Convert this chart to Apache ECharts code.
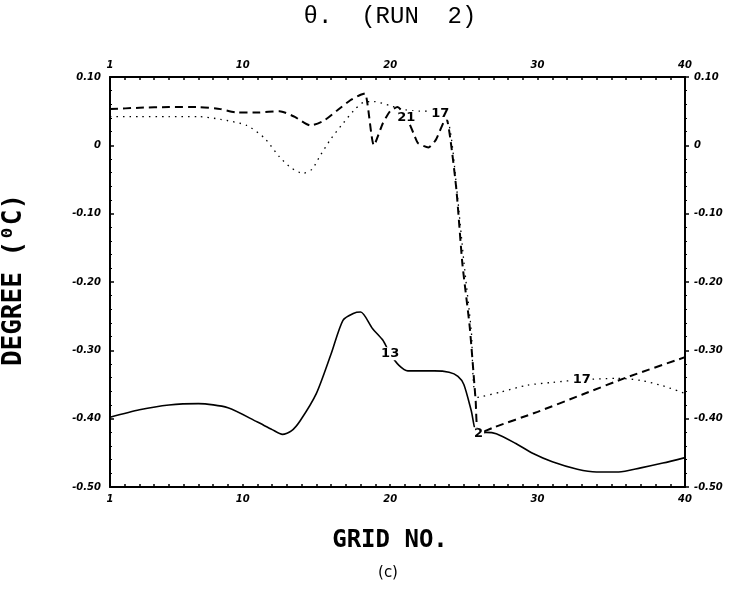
<!DOCTYPE html>
<html>
<head>
<meta charset="utf-8">
<title>theta run 2</title>
<script src="https://cdn.jsdelivr.net/npm/echarts@6/dist/echarts.min.js"></script>
<style>
  html, body { margin: 0; padding: 0; background: #fff; }
  #chart { width: 741px; height: 592px; }
</style>
</head>
<body>
<div id="chart"></div>
<script>
// grid positions shown on the x axis
var gridLabels = [1, 10, 20, 30, 40];
var gridTicks = [];
for (var g = 1; g <= 40; g++) gridTicks.push(g);

// curve 13 (solid)
var solidX = [1, 3, 5, 7, 9, 11, 12, 12.7, 13.3, 13.9, 15, 16, 16.8, 17.5, 18, 18.8, 19.5, 20, 20.6, 21.2, 22, 23, 24, 24.6, 25, 25.5, 25.9, 26.5, 27.2, 28.5, 29.7, 31, 32.7, 34, 35.5, 37, 38.5, 40];
var solidY = [-0.398, -0.387, -0.380, -0.378, -0.384, -0.405, -0.416, -0.423, -0.418, -0.403, -0.363, -0.305, -0.256, -0.246, -0.244, -0.268, -0.285, -0.305, -0.322, -0.330, -0.330, -0.330, -0.332, -0.338, -0.350, -0.388, -0.422, -0.420, -0.422, -0.436, -0.451, -0.463, -0.474, -0.478, -0.478, -0.472, -0.465, -0.457];

// curve 21 (dashed)
var dashX = [1, 3, 5, 7, 8.5, 9.6, 11, 12.5, 13.5, 14.6, 15.5, 16.4, 17.3, 18, 18.3, 18.9, 19.5, 20, 20.5, 21.1, 21.6, 21.9, 22.6, 23.1, 23.8, 24.1, 24.5, 24.9, 25.4, 25.8, 26.0, 27, 30, 33, 36, 40];
var dashY = [0.053, 0.055, 0.056, 0.056, 0.053, 0.048, 0.048, 0.050, 0.042, 0.029, 0.036, 0.051, 0.066, 0.074, 0.076, 0.000, 0.032, 0.050, 0.056, 0.041, 0.017, 0.003, -0.003, 0.008, 0.040, 0.007, -0.066, -0.173, -0.266, -0.373, -0.422, -0.413, -0.390, -0.365, -0.340, -0.310];

// curve 17 (dotted)
var dotX = [1, 3, 5, 7, 8.5, 10.3, 11.5, 12.5, 13.3, 14.1, 14.7, 15.2, 16, 16.8, 17.5, 18.2, 18.9, 20, 21, 22, 22.7, 23.4, 24.0, 24.5, 25.0, 25.5, 25.9, 27.5, 29.3, 31, 33, 35.4, 37, 38.5, 40];
var dotY = [0.042, 0.042, 0.042, 0.042, 0.038, 0.029, 0.010, -0.017, -0.033, -0.041, -0.035, -0.017, 0.010, 0.032, 0.050, 0.063, 0.064, 0.058, 0.052, 0.050, 0.050, 0.047, 0.030, -0.060, -0.170, -0.270, -0.369, -0.361, -0.351, -0.347, -0.343, -0.341, -0.344, -0.352, -0.363];

// curve labels: which point of which curve carries which text
var curveLabels = [
  { curve: "solid", at: 20, text: "13" },
  { curve: "dash", at: 21.1, text: "21" },
  { curve: "dash", at: 26.0, text: "2" },
  { curve: "dot", at: 23.4, text: "17" },
  { curve: "dot", at: 33, text: "17" }
];

function pairs(xs, ys) {
  return xs.map(function (x, i) { return [x, ys[i]]; });
}

var curves = {
  solid: pairs(solidX, solidY),
  dash: pairs(dashX, dashY),
  dot: pairs(dotX, dotY)
};

var labelData = curveLabels.map(function (l) {
  var pt = curves[l.curve].filter(function (p) { return p[0] === l.at; })[0];
  return { value: [pt[0], pt[1]], name: l.text };
});

var tickFont = {
  color: "#000",
  fontSize: 10,
  fontWeight: "bold",
  fontStyle: "italic",
  fontFamily: "DejaVu Sans"
};

function degLabel(v) {
  if (Math.abs(v) < 1e-9) return "0";
  return v.toFixed(2);
}

function xAxisCfg(pos) {
  return {
    type: "value",
    position: pos,
    min: 1,
    max: 40,
    axisLine: { show: true, onZero: false, lineStyle: { color: "#000", width: 2 } },
    axisTick: { show: true, inside: true, length: 3, customValues: gridTicks, lineStyle: { color: "#000", width: 1.5 } },
    axisLabel: Object.assign({ customValues: gridLabels, margin: 7 }, tickFont),
    splitLine: { show: false }
  };
}

function yAxisCfg(pos) {
  return {
    type: "value",
    position: pos,
    min: -0.5,
    max: 0.1,
    interval: 0.1,
    axisLine: { show: true, onZero: false, lineStyle: { color: "#000", width: 2 } },
    axisTick: { show: true, inside: pos === "left", length: 4, lineStyle: { color: "#000", width: 1.5 } },
    minorTick: { show: true, splitNumber: 5, length: 2, lineStyle: { color: "#000", width: 1.2 } },
    axisLabel: Object.assign({ formatter: degLabel, margin: 9 }, tickFont),
    splitLine: { show: false }
  };
}

var chart = echarts.init(document.getElementById("chart"), null, { renderer: "canvas" });

chart.setOption({
  backgroundColor: "#fff",
  animation: false,
  grid: { left: 110, right: 56, top: 77, bottom: 105 },
  xAxis: [xAxisCfg("bottom"), xAxisCfg("top")],
  yAxis: [yAxisCfg("left"), yAxisCfg("right")],
  graphic: [
    {
      type: "text", x: 390, y: 17,
      style: { text: "θ.  (RUN  2)", font: "normal 24px 'Liberation Mono'", fill: "#000", align: "center", verticalAlign: "middle" }
    },
    {
      type: "text", x: 14, y: 280, rotation: Math.PI / 2,
      style: { text: "DEGREE (⁰C)", font: "bold 26px 'DejaVu Sans Mono'", fill: "#000", align: "center", verticalAlign: "middle" }
    },
    {
      type: "text", x: 390, y: 541,
      style: { text: "GRID NO.", font: "bold 24px 'DejaVu Sans Mono'", fill: "#000", align: "center", verticalAlign: "middle" }
    },
    {
      type: "text", x: 388, y: 573,
      style: { text: "(c)", font: "normal 15px 'DejaVu Sans'", fill: "#000", align: "center", verticalAlign: "middle" }
    }
  ],
  series: [
    {
      type: "line",
      data: curves.solid,
      smooth: 0.25,
      symbol: "none",
      lineStyle: { color: "#000", width: 1.6, type: "solid" }
    },
    {
      type: "line",
      data: curves.dash,
      smooth: 0.2,
      symbol: "none",
      lineStyle: { color: "#000", width: 2, type: [8, 5] }
    },
    {
      type: "line",
      data: curves.dot,
      smooth: 0.25,
      symbol: "none",
      lineStyle: { color: "#000", width: 1.3, type: [1.5, 5] }
    },
    {
      type: "scatter",
      data: labelData,
      symbolSize: 1,
      itemStyle: { color: "rgba(0,0,0,0)", opacity: 1 },
      emphasis: { disabled: true },
      label: {
        show: true,
        position: "inside",
        formatter: "{b}",
        color: "#000",
        opacity: 1,
        fontSize: 13,
        fontWeight: "bold",
        fontFamily: "DejaVu Sans",
        backgroundColor: "#fff",
        padding: [0, 1]
      },
      z: 5
    }
  ]
});
</script>
</body>
</html>
